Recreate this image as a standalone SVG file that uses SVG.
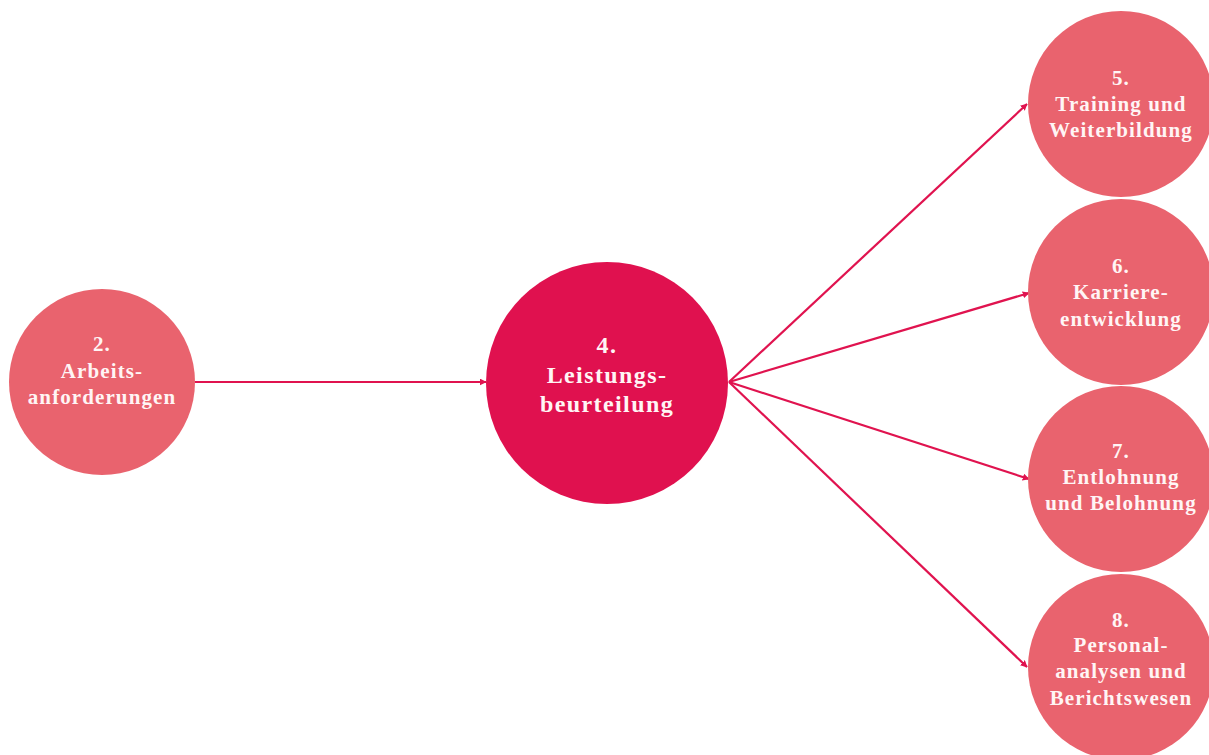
<svg xmlns="http://www.w3.org/2000/svg" width="1209" height="755" viewBox="0 0 1209 755">
<defs>
<marker id="arr" viewBox="0 0 10 10" refX="9" refY="5" markerWidth="7" markerHeight="7" orient="auto" markerUnits="userSpaceOnUse">
<path d="M0,0 L10,5 L0,10 z" fill="#E0134F"/>
</marker>
<style>
.n{fill:#E9636E}
.c{fill:#E0114F}
.t{font-family:"Liberation Serif","DejaVu Serif",serif;font-weight:bold;font-size:21px;letter-spacing:1.1px;fill:#FFF5F5;text-anchor:middle}
.tc{font-size:24px;letter-spacing:1.4px}
.e{stroke:#E0134F;stroke-width:2.2;fill:none;marker-end:url(#arr)}
</style>
</defs>
<rect width="1209" height="755" fill="#fff"/>
<g id="connectors">
<line class="e" x1="195" y1="382" x2="486" y2="382"/>
<line class="e" x1="729" y1="382" x2="1027" y2="104"/>
<line class="e" x1="729" y1="382" x2="1029" y2="293"/>
<line class="e" x1="729" y1="382" x2="1029" y2="479"/>
<line class="e" x1="729" y1="382" x2="1027" y2="667"/>
</g>
<g id="n2"><circle class="n" cx="102" cy="382" r="93"/>
<text class="t"><tspan x="102" y="351">2.</tspan><tspan x="102" y="378">Arbeits-</tspan><tspan x="102" y="404">anforderungen</tspan></text></g>
<g id="n4"><circle class="c" cx="607" cy="383" r="121"/>
<text class="t tc"><tspan x="607" y="353">4.</tspan><tspan x="607" y="383">Leistungs-</tspan><tspan x="607" y="412">beurteilung</tspan></text></g>
<g id="n5"><circle class="n" cx="1121" cy="104" r="93"/>
<text class="t"><tspan x="1121" y="85">5.</tspan><tspan x="1121" y="111">Training und</tspan><tspan x="1121" y="137">Weiterbildung</tspan></text></g>
<g id="n6"><circle class="n" cx="1121" cy="292" r="93"/>
<text class="t"><tspan x="1121" y="273">6.</tspan><tspan x="1121" y="299">Karriere-</tspan><tspan x="1121" y="326">entwicklung</tspan></text></g>
<g id="n7"><circle class="n" cx="1121" cy="479" r="93"/>
<text class="t"><tspan x="1121" y="458">7.</tspan><tspan x="1121" y="484">Entlohnung</tspan><tspan x="1121" y="510">und Belohnung</tspan></text></g>
<g id="n8"><circle class="n" cx="1121" cy="667" r="93"/>
<text class="t"><tspan x="1121" y="627">8.</tspan><tspan x="1121" y="652">Personal-</tspan><tspan x="1121" y="678">analysen und</tspan><tspan x="1121" y="705">Berichtswesen</tspan></text></g>
</svg>
